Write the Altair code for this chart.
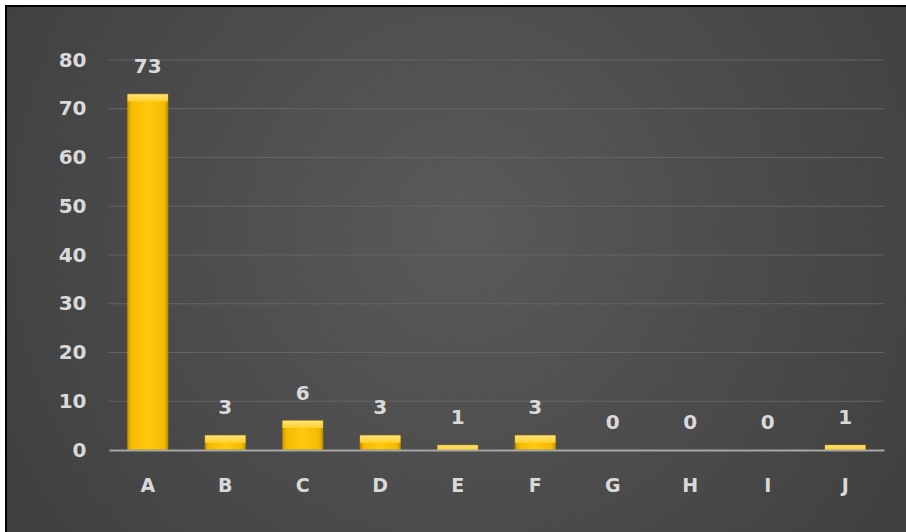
import altair as alt
import pandas as pd

categories = ["A", "B", "C", "D", "E", "F", "G", "H", "I", "J"]
values = [73, 3, 6, 3, 1, 3, 0, 0, 0, 1]
y_ticks = [0, 10, 20, 30, 40, 50, 60, 70, 80]

df = pd.DataFrame({"cat": categories, "val": values})
# bevel highlight bottom in data units (about 1.5 units ~ 7 px)
df["bevel_lo"] = [max(0, v - 1.5) for v in values]
grid_df = pd.DataFrame({"t": [t for t in y_ticks if t > 0]})

W, H = 775, 390
PL, PT = 109, 60
FONT = "DejaVu Sans"
TXT = "#d9d9d9"

x_enc = alt.X("cat:N", sort=categories,
              scale=alt.Scale(paddingInner=0.48, paddingOuter=0.24),
              axis=alt.Axis(title=None, labelAngle=0, labelFont=FONT, labelFontSize=19,
                            labelFontWeight="bold", labelColor=TXT, labelPadding=26,
                            ticks=False, domainColor="#a6a6a6", domainWidth=2, zindex=1))
y_scale = alt.Scale(domain=[0, 80], nice=False)

bg = alt.Chart(df).mark_rect(
    color=alt.RadialGradient(
        gradient="radial", x1=0.5, y1=0.45, r1=0.0, x2=0.5, y2=0.45, r2=0.75,
        stops=[alt.GradientStop(offset=0, color="#5a5a5a"),
               alt.GradientStop(offset=1, color="#383838")]),
    stroke="#000000", strokeWidth=2,
).encode(
    x=alt.value(6 - PL), x2=alt.value(906 - PL + 10),
    y=alt.value(6 - PT), y2=alt.value(532 - PT + 10),
)

grid = alt.Chart(grid_df).mark_rule(color="#646464", strokeWidth=1).encode(
    y=alt.Y("t:Q", scale=y_scale),
    x=alt.value(0), x2=alt.value(W),
)

bars = alt.Chart(df).transform_filter("datum.val > 0").mark_bar(
    color=alt.LinearGradient(
        gradient="linear", x1=0, y1=0, x2=1, y2=0,
        stops=[alt.GradientStop(offset=0, color="#c99700"),
               alt.GradientStop(offset=0.1, color="#f5bb00"),
               alt.GradientStop(offset=0.5, color="#ffc90e"),
               alt.GradientStop(offset=0.9, color="#f5bb00"),
               alt.GradientStop(offset=1, color="#c99700")]),
    stroke="#b88a00", strokeWidth=0.8,
).encode(
    x=x_enc,
    y=alt.Y("val:Q", scale=y_scale,
            axis=alt.Axis(values=y_ticks, title=None, labelFont=FONT, labelFontSize=20,
                          labelFontWeight="bold", labelColor=TXT, labelPadding=23,
                          ticks=False, domain=False, grid=False, zindex=1)),
)

bevel = alt.Chart(df).transform_filter("datum.val > 0").mark_bar(
    color=alt.LinearGradient(
        gradient="linear", x1=0, y1=0, x2=0, y2=1,
        stops=[alt.GradientStop(offset=0, color="#ffe27a"),
               alt.GradientStop(offset=1, color="#ffd02e")]),
).encode(
    x=alt.X("cat:N", sort=categories),
    y=alt.Y("val:Q", scale=y_scale),
    y2="bevel_lo:Q",
)

labels = alt.Chart(df).mark_text(
    font=FONT, fontSize=20, fontWeight="bold", color=TXT, baseline="alphabetic", dy=-21,
).encode(
    x=alt.X("cat:N", sort=categories),
    y=alt.Y("val:Q", scale=y_scale),
    text="val:Q",
)

chart = alt.layer(bg, grid, bars, bevel, labels).properties(
    width=W, height=H,
    autosize=alt.AutoSizeParams(type="none"),
    padding={"left": PL, "top": PT, "right": 906 - PL - W, "bottom": 532 - PT - H},
    background="#ffffff",
).configure_view(stroke=None)

chart.save("out.html", embed_options={"renderer": "svg", "actions": False})
